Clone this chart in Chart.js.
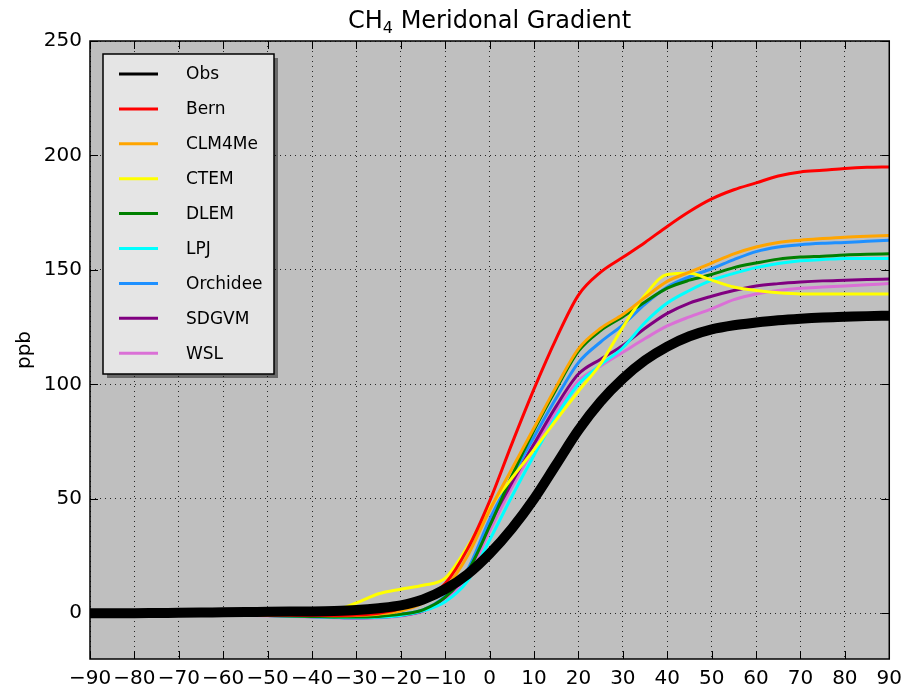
<!DOCTYPE html>
<html>
<head>
<meta charset="utf-8">
<script src="https://cdn.jsdelivr.net/npm/chart.js@4.4.0/dist/chart.umd.min.js"></script>
<style>
  html, body { margin: 0; padding: 0; background: #fff; }
</style>
</head>
<body>
<canvas id="grafico" width="904" height="688"></canvas>
<script>
// latitudes (graus) e gradiente de CH4 (ppb)
const latitudes = [-90, -85, -80, -75, -70, -65, -60, -55, -50, -45, -40, -35, -30, -25, -20, -15, -10, -5,
                   0, 5, 10, 15, 20, 25, 30, 35, 40, 45, 50, 55, 60, 65, 70, 75, 80, 85, 90];

const obs      = [0, 0, 0, 0.1, 0.2, 0.3, 0.4, 0.5, 0.6, 0.7, 0.8, 1.0, 1.4, 2.2, 3.4, 6, 10.5, 17,
                  26, 37, 50, 65, 80, 92.5, 102.5, 110.5, 116.5, 121, 124, 125.8, 127, 128, 128.7, 129.2, 129.5, 129.8, 130];
const bern     = [0, -0.1, -0.2, -0.3, -0.4, -0.5, -0.6, -0.7, -0.8, -0.9, -1.0, -1.0, -0.8, 0, 2, 6, 13, 28,
                  49, 74, 98, 120, 139, 149, 155.5, 162, 169, 175.5, 181, 185, 188, 191, 192.8, 193.5, 194.3, 194.8, 195];
const clm4me   = [0, -0.1, -0.2, -0.3, -0.4, -0.5, -0.6, -0.7, -0.8, -0.9, -1.0, -1.1, -1.0, -0.4, 1.0, 4.5, 11, 25,
                  45, 63, 81, 99, 115.5, 124.5, 130.5, 138, 145, 149, 153, 157, 160, 162, 163, 163.7, 164.3, 164.7, 165];
const ctem     = [0, 0, 0, 0.1, 0.2, 0.3, 0.4, 0.5, 0.6, 0.7, 0.8, 1.3, 4.5, 8.5, 10.5, 12.2, 15.3, 29,
                  46, 59, 71.5, 84.5, 97, 109, 125, 139, 148, 148.5, 145.5, 142.5, 141, 140, 139.5, 139.5, 139.5, 139.5, 139.5];
const dlem     = [0, -0.1, -0.2, -0.3, -0.4, -0.5, -0.6, -0.8, -1.0, -1.2, -1.4, -1.6, -1.7, -1.4, -0.5, 1.5, 7, 18,
                  38, 60, 80, 98, 114.5, 123.5, 129.5, 136, 142, 145.5, 148, 151, 153, 154.7, 155.6, 156, 156.5, 156.8, 157];
const lpj      = [0, -0.1, -0.2, -0.3, -0.4, -0.5, -0.6, -0.8, -1.0, -1.2, -1.5, -1.8, -2.0, -1.8, -1.0, 1.0, 5, 14,
                  32, 51, 69, 86, 100, 108.5, 116, 127, 135.5, 141, 145.5, 148.5, 151, 152.8, 154, 154.5, 155, 155, 155];
const orchidee = [0, -0.1, -0.2, -0.3, -0.4, -0.5, -0.6, -0.7, -0.9, -1.1, -1.3, -1.5, -1.6, -1.3, -0.4, 1.5, 7.5, 19,
                  41, 59.5, 77, 94, 109.5, 118.5, 126, 135, 142.5, 147, 150.5, 154.5, 158, 160, 161, 161.6, 162, 162.5, 163];
const sdgvm    = [0, -0.1, -0.2, -0.3, -0.4, -0.5, -0.6, -0.8, -1.0, -1.2, -1.5, -1.8, -2.0, -1.8, -1.0, 1.0, 7, 18,
                  39, 57, 74, 90.5, 104.5, 111, 117, 124.5, 131, 135.5, 138.5, 141, 143, 144, 144.7, 145.2, 145.5, 145.8, 146];
const wsl      = [0, -0.1, -0.2, -0.3, -0.5, -0.6, -0.7, -0.9, -1.1, -1.4, -1.7, -2.0, -2.3, -2.0, -1.2, 0.8, 5.7, 16,
                  36, 55, 72, 88, 101.5, 108, 114, 120, 125.5, 129.5, 133, 137, 139.5, 141, 142, 142.5, 143, 143.5, 144];

const nomes = ["Obs", "Bern", "CLM4Me", "CTEM", "DLEM", "LPJ", "Orchidee", "SDGVM", "WSL"];
const series = [obs, bern, clm4me, ctem, dlem, lpj, orchidee, sdgvm, wsl];
const cores = ["#000000", "#ff0000", "#ffa500", "#ffff00", "#008000", "#00ffff", "#1e90ff", "#800080", "#da70d6"];

const ticksX = [-90, -80, -70, -60, -50, -40, -30, -20, -10, 0, 10, 20, 30, 40, 50, 60, 70, 80, 90];
const ticksY = [0, 50, 100, 150, 200, 250];

const fonte = "'DejaVu Sans', sans-serif";

const datasets = series.map((valores, i) => ({
    label: nomes[i],
    data: valores.map((v, j) => ({ x: latitudes[j], y: v })),
    borderColor: cores[i],
    borderWidth: i === 0 ? 10 : 3,
    pointRadius: 0,
    fill: false,
    cubicInterpolationMode: 'monotone'
}));

// fundo cinza, moldura, ticks para dentro, legenda e titulo
const estilo = {
    id: 'estilo',
    beforeDraw(chart) {
        const { ctx, chartArea: a } = chart;
        ctx.save();
        ctx.fillStyle = '#bfbfbf';
        ctx.fillRect(a.left, a.top, a.right - a.left, a.bottom - a.top);
        ctx.restore();
    },
    afterDraw(chart) {
        const { ctx, chartArea: a, scales } = chart;
        ctx.save();
        ctx.strokeStyle = '#000';
        ctx.lineWidth = 1;
        ctx.beginPath();
        ticksX.forEach(v => {
            const x = Math.round(scales.x.getPixelForValue(v)) + 0.5;
            ctx.moveTo(x, a.bottom); ctx.lineTo(x, a.bottom - 8);
            ctx.moveTo(x, a.top); ctx.lineTo(x, a.top + 8);
        });
        ticksY.forEach(v => {
            const y = Math.round(scales.y.getPixelForValue(v)) + 0.5;
            ctx.moveTo(a.left, y); ctx.lineTo(a.left + 8, y);
            ctx.moveTo(a.right, y); ctx.lineTo(a.right - 8, y);
        });
        ctx.stroke();
        ctx.lineWidth = 1.5;
        ctx.strokeRect(a.left, a.top, a.right - a.left, a.bottom - a.top);

        // legenda
        const bx = a.left + 13, by = a.top + 13, bw = 171, bh = 320;
        ctx.fillStyle = 'rgba(0,0,0,0.45)';
        ctx.fillRect(bx + 4, by + 4, bw, bh);
        ctx.fillStyle = '#e5e5e5';
        ctx.fillRect(bx, by, bw, bh);
        ctx.lineWidth = 1.5;
        ctx.strokeStyle = '#000';
        ctx.strokeRect(bx, by, bw, bh);
        ctx.font = '17px ' + fonte;
        ctx.textBaseline = 'middle';
        chart.data.datasets.forEach((d, i) => {
            const y = by + 20 + i * 34.9;
            ctx.strokeStyle = d.borderColor;
            ctx.lineWidth = 3;
            ctx.beginPath();
            ctx.moveTo(bx + 16, y); ctx.lineTo(bx + 55, y);
            ctx.stroke();
            ctx.fillStyle = '#000';
            ctx.fillText(d.label, bx + 83, y + 1);
        });

        // titulo com subscrito
        const cx = (a.left + a.right) / 2, ty = 22;
        ctx.fillStyle = '#000';
        ctx.font = '24px ' + fonte;
        const p1 = 'CH', p3 = ' Meridonal Gradient';
        const w1 = ctx.measureText(p1).width, w3 = ctx.measureText(p3).width;
        ctx.font = '16px ' + fonte;
        const w2 = ctx.measureText('4').width;
        let x0 = cx - (w1 + w2 + w3) / 2;
        ctx.textAlign = 'left';
        ctx.font = '24px ' + fonte;
        ctx.fillText(p1, x0, ty);
        ctx.font = '16px ' + fonte;
        ctx.fillText('4', x0 + w1, ty + 7);
        ctx.font = '24px ' + fonte;
        ctx.fillText(p3, x0 + w1 + w2, ty);
        ctx.restore();
    }
};

new Chart(document.getElementById('grafico'), {
    type: 'line',
    data: { datasets },
    options: {
        responsive: false,
        animation: false,
        layout: { padding: { top: 41, right: 12, bottom: 0, left: 0 } },
        plugins: {
            legend: { display: false },
            title: { display: false },
            tooltip: { enabled: false }
        },
        scales: {
            x: {
                type: 'linear',
                min: -90,
                max: 90,
                afterBuildTicks: s => { s.ticks = ticksX.map(v => ({ value: v })); },
                afterFit: s => { s.height = 29; },
                ticks: {
                    autoSkip: false,
                    maxRotation: 0,
                    padding: 2,
                    color: '#000',
                    font: { family: fonte, size: 20 },
                    callback: v => v < 0 ? '\u2212' + Math.abs(v) : String(v)
                },
                grid: {
                    color: 'rgba(0,0,0,0.8)', lineWidth: 1,
                    drawTicks: true, tickLength: 6, tickColor: 'rgba(0,0,0,0)'
                },
                border: { display: false, dash: [1, 4] }
            },
            y: {
                min: -20,
                max: 250,
                afterBuildTicks: s => { s.ticks = ticksY.map(v => ({ value: v })); },
                afterFit: s => { s.width = 90; },
                ticks: {
                    padding: 8,
                    color: '#000',
                    font: { family: fonte, size: 20 }
                },
                grid: { color: 'rgba(0,0,0,0.8)', lineWidth: 1, drawTicks: false },
                border: { display: false, dash: [1, 4] },
                title: {
                    display: true,
                    text: 'ppb',
                    color: '#000',
                    font: { family: fonte, size: 20 },
                    padding: { top: 13, bottom: 0 }
                }
            }
        }
    },
    plugins: [estilo]
});
</script>
</body>
</html>
